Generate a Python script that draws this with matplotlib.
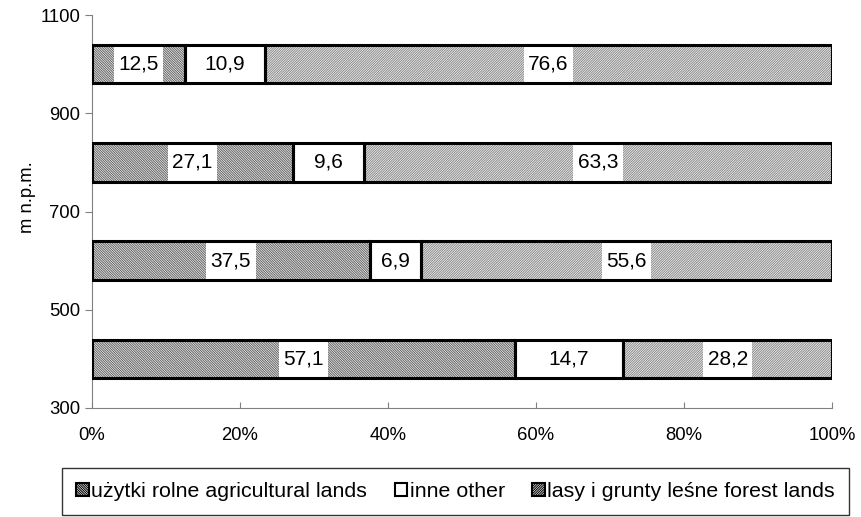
import numpy as np
import matplotlib.pyplot as plt

# altitude belts (m n.p.m.) and land-use shares in %
heights = [400, 600, 800, 1000]
agricultural = [57.1, 37.5, 27.1, 12.5]
other = [14.7, 6.9, 9.6, 10.9]
forest = [28.2, 55.6, 63.3, 76.6]

series = [
    ("użytki rolne agricultural lands", agricultural, "\\" * 14, "#666666"),
    ("inne other", other, None, "white"),
    ("lasy i grunty leśne forest lands", forest, "/" * 14, "#8c8c8c"),
]

plt.rcParams['font.family'] = ['Liberation Sans', 'DejaVu Sans']
plt.rcParams['hatch.linewidth'] = 0.75

fig = plt.figure(figsize=(8.61, 5.17), dpi=100)
ax = fig.add_axes([92 / 861, 1 - 408 / 517, 740 / 861, 393 / 517])
ax.set_xlim(0, 100)
ax.set_ylim(300, 1100)

bar_h = 78
left = np.zeros(len(heights))
handles = []
labels = []
for name, vals, hatch, hcol in series:
    vals = np.array(vals)
    # hatched fill first, then a plain black outline on top
    ax.barh(heights, vals, left=left, height=bar_h, color="white",
            edgecolor=hcol, hatch=hatch, linewidth=0, zorder=1)
    ax.barh(heights, vals, left=left, height=bar_h, fill=False,
            edgecolor="black", linewidth=2.2, zorder=4)
    for y, l, v in zip(heights, left, vals):
        t = ax.text(l + v / 2, y, "{:.1f}".format(v).replace(".", ","),
                    ha="center", va="center", fontsize=15, zorder=3)
        labels.append((t, y))
    handles.append(plt.Rectangle((0, 0), 1, 1, facecolor="white",
                                 edgecolor="black", hatch=hatch, linewidth=1.5))
    left = left + vals

# white label boxes span the full bar height, width follows the text
fig.canvas.draw()
renderer = fig.canvas.get_renderer()
px_per_unit = ax.bbox.width / 100.0
for t, y in labels:
    w = t.get_window_extent(renderer).width / px_per_unit + 9 / px_per_unit
    x = t.get_position()[0]
    ax.barh(y, w, left=x - w / 2, height=bar_h, color="white",
            linewidth=0, zorder=2)

ax.set_xticks(np.arange(0, 101, 20))
ax.set_xticklabels(["{}%".format(v) for v in range(0, 101, 20)], fontsize=13.3)
ax.set_yticks([300, 500, 700, 900, 1100])
ax.tick_params(axis="y", direction="out", length=5, color="#808080", labelsize=13.3)
ax.tick_params(axis="x", direction="in", length=4, color="#808080", pad=14)
for s in ["top", "right"]:
    ax.spines[s].set_visible(False)
for s in ["left", "bottom"]:
    ax.spines[s].set_color("#808080")
ax.set_ylabel("m n.p.m.", fontsize=13.3)
ax.yaxis.set_label_coords(-0.076, 0.537)

leg = fig.legend(handles, [s[0] for s in series], ncol=3, fontsize=15.4,
                 loc="upper left", bbox_to_anchor=(62 / 861, 1 - 468 / 517),
                 frameon=True, fancybox=False, edgecolor="black",
                 handlelength=0.6, handleheight=0.6, handletextpad=0.1,
                 columnspacing=1.3, borderpad=0.65, borderaxespad=0)
leg.get_frame().set_linewidth(1.0)

fig.savefig("out.png", dpi=100)
